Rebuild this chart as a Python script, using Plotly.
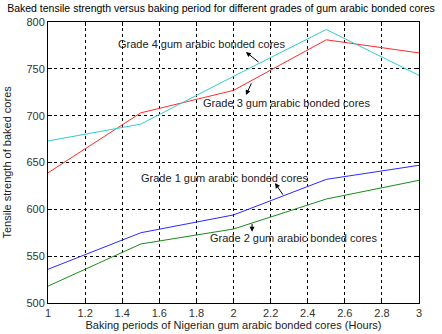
import plotly.graph_objects as go

hours = [1, 1.5, 2, 2.5, 3]
grade1 = [536, 575, 594, 632, 647]
grade2 = [518, 563, 579, 611, 631]
grade3 = [639, 703, 727, 781, 767]
grade4 = [673, 691, 742, 792, 743]

x_ticks = [1, 1.2, 1.4, 1.6, 1.8, 2, 2.2, 2.4, 2.6, 2.8, 3]
x_ticktext = ["1", "1.2", "1.4", "1.6", "1.8", "2", "2.2", "2.4", "2.6", "2.8", "3"]
y_ticks = [500, 550, 600, 650, 700, 750, 800]

labels = ["Grade 1 gum arabic bonded cores", "Grade 2 gum arabic bonded cores",
          "Grade 3 gum arabic bonded cores", "Grade 4 gum arabic bonded cores"]
label_pos = [(1.949, 633), (2.326, 569), (2.283, 713), (1.825, 777)]
arrow_head = [(2.224, 628), (2.10, 576), (2.067, 722), (2.067, 768)]
arrow_tail = [(2.272, 614), (2.10, 586), (2.10, 736), (2.143, 756)]

colors = ["#2a2aff", "#1a8c1a", "#ff2a2a", "#33cccc"]
series = [grade1, grade2, grade3, grade4]

FONT = "Liberation Sans, Arial, sans-serif"

fig = go.Figure()
for s, c, n in zip(series, colors, labels):
    fig.add_trace(go.Scatter(x=hours, y=s, mode="lines", line=dict(color=c, width=1),
                             name=n, showlegend=False))

anns = []
for lab, (tx, ty) in zip(labels, label_pos):
    anns.append(dict(x=tx, y=ty, xref="x", yref="y", text=lab, showarrow=False,
                     font=dict(family=FONT, size=11, color="#222222")))
for (hx, hy), (sx, sy) in zip(arrow_head, arrow_tail):
    anns.append(dict(x=hx, y=hy, xref="x", yref="y", ax=sx, ay=sy, axref="x", ayref="y",
                     text="", showarrow=True, arrowhead=2, arrowsize=1, arrowwidth=1,
                     arrowcolor="black"))
# y-axis title as a rotated annotation
anns.append(dict(x=0, y=0.5, xref="paper", yref="paper", xanchor="right", yanchor="middle",
                 xshift=-34, textangle=-90, showarrow=False,
                 text="Tensile strength of baked cores",
                 font=dict(family=FONT, size=11, color="#222222")))

fig.update_layout(
    width=442, height=334,
    margin=dict(l=48, r=23, t=22, b=31),
    paper_bgcolor="white", plot_bgcolor="white",
    font=dict(family=FONT, size=11, color="#222222"),
    title=dict(text="Baked tensile strength versus baking period for different grades of gum arabic bonded cores",
               x=0.5, xref="container", xanchor="center",
               y=1 - 8 / 334, yref="container", yanchor="middle",
               font=dict(family=FONT, size=10.5, color="black")),
    annotations=anns,
    xaxis=dict(range=[1, 3], tickvals=x_ticks, ticktext=x_ticktext,
               showline=True, linecolor="black", linewidth=1, mirror="ticks",
               ticks="inside", ticklen=4, tickcolor="black",
               showgrid=True, gridcolor="black", griddash="dot", gridwidth=1,
               zeroline=False, automargin=False,
               tickfont=dict(color="#333333"),
               title=dict(text="Baking periods of Nigerian gum arabic bonded cores (Hours)",
                          standoff=2, font=dict(size=11))),
    yaxis=dict(range=[500, 800], tickvals=y_ticks,
               showline=True, linecolor="black", linewidth=1, mirror="ticks",
               ticks="inside", ticklen=4, tickcolor="black",
               showgrid=True, gridcolor="black", griddash="dot", gridwidth=1,
               zeroline=False, automargin=False,
               tickfont=dict(color="#333333")),
)

fig.write_html("out.html", config={"displayModeBar": False},
               post_script="document.body.style.margin='0';document.body.style.overflow='hidden';")
